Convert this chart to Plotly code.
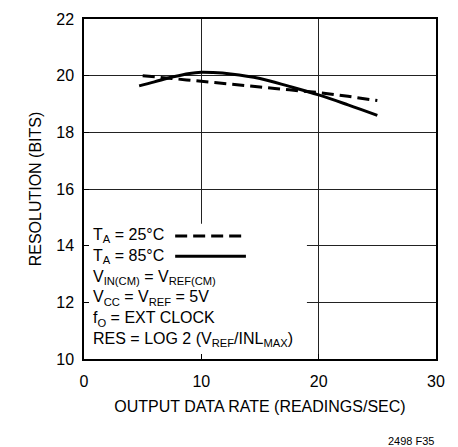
"""Resolution vs output data rate (LTC2498 fig. 35) recreated with Plotly."""

import plotly.graph_objects as go

# Data
rate_25c = [5, 7.5, 10, 12.5, 15, 17.5, 20, 22.5, 25]
res_25c = [20.0, 19.9, 19.8, 19.7, 19.6, 19.5, 19.4, 19.27, 19.12]

rate_85c = [4.7, 6, 7.5, 9, 10, 11, 12.5, 15, 17.5, 20, 22.5, 25]
res_85c = [19.64, 19.78, 19.95, 20.08, 20.12, 20.11, 20.06, 19.9, 19.62, 19.32, 18.97, 18.6]

x_ticks = [0, 10, 20, 30]
y_ticks = [10, 12, 14, 16, 18, 20, 22]

FONT = "Liberation Sans, Arial, sans-serif"

notes = [
    "T<sub>A</sub> = 25°C",
    "T<sub>A</sub> = 85°C",
    "V<sub>IN(CM)</sub> = V<sub>REF(CM)</sub>",
    "V<sub>CC</sub> = V<sub>REF</sub> = 5V",
    "f<sub>O</sub> = EXT CLOCK",
    "RES = LOG 2 (V<sub>REF</sub>/INL<sub>MAX</sub>)",
]

fig = go.Figure()

fig.add_trace(
    go.Scatter(
        x=rate_25c,
        y=res_25c,
        mode="lines",
        line=dict(color="black", width=3, dash="12px,6px", shape="spline"),
        hoverinfo="skip",
    )
)
fig.add_trace(
    go.Scatter(
        x=rate_85c,
        y=res_85c,
        mode="lines",
        line=dict(color="black", width=3, shape="spline"),
        hoverinfo="skip",
    )
)

# white box behind the notes hides the grid there
fig.add_shape(
    type="rect", xref="x", yref="y", x0=0, x1=19, y0=10, y1=14.77,
    fillcolor="white", line=dict(width=0), layer="between",
)

# legend line samples
fig.add_shape(
    type="line", xref="paper", yref="paper", x0=0.259, x1=0.46, y0=0.362, y1=0.362,
    line=dict(color="black", width=3, dash="12px,6px"),
)
fig.add_shape(
    type="line", xref="paper", yref="paper", x0=0.259, x1=0.46, y0=0.302, y1=0.302,
    line=dict(color="black", width=3),
)

fig.add_annotation(
    text="<br>".join(notes), xref="paper", yref="paper", x=0.02, y=0.024,
    xanchor="left", yanchor="bottom", align="left", showarrow=False,
    font=dict(family=FONT, size=16, color="black"),
)

fig.add_annotation(
    text="2498 F35", xref="paper", yref="paper", x=1.0, y=-0.24,
    xanchor="right", yanchor="middle", showarrow=False,
    font=dict(family=FONT, size=11, color="black"),
)

axis_common = dict(
    showgrid=True,
    gridcolor="#222222",
    gridwidth=1,
    zeroline=False,
    showline=True,
    linecolor="black",
    linewidth=1.5,
    mirror=True,
    ticks="inside",
    ticklen=5,
    tickcolor="black",
    tickfont=dict(family=FONT, size=16, color="black"),
)

fig.update_layout(
    width=458,
    height=447,
    plot_bgcolor="white",
    paper_bgcolor="white",
    showlegend=False,
    margin=dict(l=84, r=22, t=11, b=88),
    xaxis=dict(
        range=[0, 30], tickvals=x_ticks, ticklabelstandoff=7,
        title=dict(text="OUTPUT DATA RATE (READINGS/SEC)", font=dict(family=FONT, size=16, color="black"), standoff=12),
        **axis_common,
    ),
    yaxis=dict(
        range=[10, 22], tickvals=y_ticks, ticklabelstandoff=5,
        title=dict(text="RESOLUTION (BITS)", font=dict(family=FONT, size=16, color="black"), standoff=11),
        **axis_common,
    ),
)

fig.write_html(
    "out.html",
    config={"displayModeBar": False},
    post_script="document.body.style.margin='0';",
)
